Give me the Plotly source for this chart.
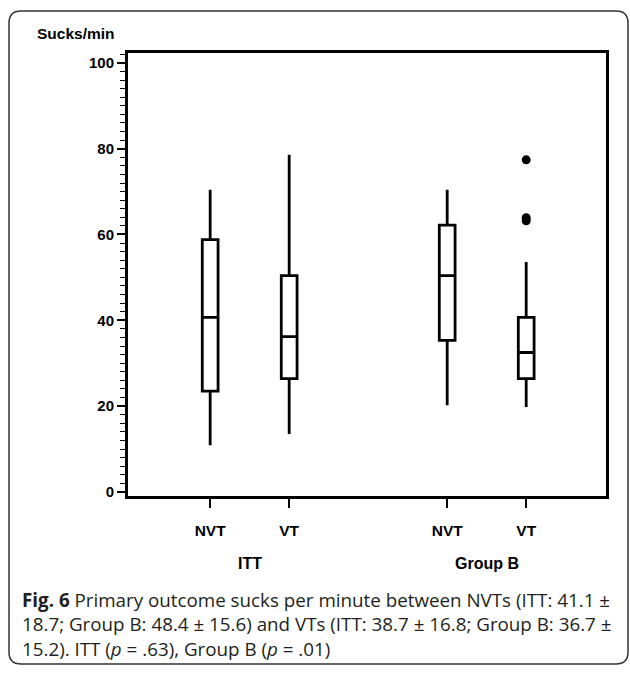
import plotly.graph_objects as go

# ---- data ----
groups = ["ITT", "ITT", "Group B", "Group B"]
categories = ["NVT", "VT", "NVT", "VT"]
x_pos = [0, 1, 3, 4]
lower_whisker = [10.9, 13.5, 20.2, 19.8]
q1_vals = [23.5, 26.4, 35.3, 26.4]
median_vals = [40.7, 36.2, 50.4, 32.5]
q3_vals = [58.8, 50.4, 62.2, 40.7]
upper_whisker = [70.4, 78.6, 70.4, 53.6]
outlier_x = [4, 4, 4]
outlier_y = [63.2, 63.9, 77.4]
group_labels = ["ITT", "Group B"]
group_centers = [0.5, 3.5]
y_ticks = [0, 20, 40, 60, 80, 100]

# ---- geometry helpers (pixel -> paper) ----
W, H = 630, 674
ML, MR, MT, MB = 128, 24, 53, 178
PW, PH = W - ML - MR, H - MT - MB


def px(xp):
    return (xp - ML) / PW


def py(yp):
    return (H - MB - yp) / PH


fig = go.Figure()

fig.add_trace(go.Box(
    x=x_pos,
    q1=q1_vals, median=median_vals, q3=q3_vals,
    lowerfence=lower_whisker, upperfence=upper_whisker,
    width=0.2, whiskerwidth=0,
    line=dict(color="black", width=2.8),
    fillcolor="white",
    boxpoints=False,
    showlegend=False,
    hoverinfo="skip",
))

fig.add_trace(go.Scatter(
    x=outlier_x, y=outlier_y, mode="markers",
    marker=dict(color="black", size=9),
    showlegend=False, hoverinfo="skip",
))

axis_font = dict(family="Liberation Sans, Arial, sans-serif", size=15, color="black")

fig.update_xaxes(
    range=[-1.04, 5.01],
    tickmode="array", tickvals=x_pos,
    ticktext=["<b>%s</b>" % c for c in categories],
    ticks="outside", ticklen=9, tickwidth=1.5, tickcolor="black",
    ticklabelstandoff=9,
    showline=True, linecolor="black", linewidth=3, mirror=True,
    showgrid=False, zeroline=False,
    tickfont=dict(family="Liberation Sans, Arial, sans-serif", size=15.5, color="black"),
)
fig.update_yaxes(
    range=[-0.95, 102.3],
    tickmode="array", tickvals=y_ticks,
    ticktext=["<b>%d</b>" % v for v in y_ticks],
    ticks="outside", ticklen=8, tickwidth=1.5, tickcolor="black",
    minor=dict(dtick=2, tick0=0, ticks="outside", ticklen=5, tickwidth=1.3, tickcolor="black"),
    showline=True, linecolor="black", linewidth=3, mirror=True,
    showgrid=False, zeroline=False,
    tickfont=axis_font,
)

annotations = []
annotations.append(dict(
    text="<b>Sucks/min</b>", xref="paper", yref="paper",
    x=px(35), y=py(33), xanchor="left", yanchor="middle",
    showarrow=False, font=dict(family="Liberation Sans, Arial, sans-serif", size=15.5, color="black"),
))
for lab, cx in zip(group_labels, group_centers):
    annotations.append(dict(
        text="<b>%s</b>" % lab, xref="x", yref="paper",
        x=cx, y=py(563), xanchor="center", yanchor="middle",
        showarrow=False, font=dict(family="Liberation Sans, Arial, sans-serif", size=16, color="black"),
    ))
caption = ("<b>Fig. 6</b> Primary outcome sucks per minute between NVTs (ITT: 41.1 ±<br>"
           "18.7; Group B: 48.4 ± 15.6) and VTs (ITT: 38.7 ± 16.8; Group B: 36.7 ±<br>"
           "15.2). ITT (<i>p</i> = .63), Group B (<i>p</i> = .01)")
annotations.append(dict(
    text=caption, xref="paper", yref="paper",
    x=px(20), y=py(624), xanchor="left", yanchor="middle",
    align="left", showarrow=False,
    font=dict(family="Open Sans, sans-serif", size=18.8, color="#231f20"),
))

# rounded border around the whole figure
x0, x1 = px(9), px(628)
y0, y1 = py(11), py(664)
rx = 12 / PW
ry = 12 / PH
path = (f"M {x0 + rx},{y0} L {x1 - rx},{y0} Q {x1},{y0} {x1},{y0 - ry} "
        f"L {x1},{y1 + ry} Q {x1},{y1} {x1 - rx},{y1} "
        f"L {x0 + rx},{y1} Q {x0},{y1} {x0},{y1 + ry} "
        f"L {x0},{y0 - ry} Q {x0},{y0} {x0 + rx},{y0} Z")

fig.update_layout(
    width=W, height=H,
    margin=dict(l=ML, r=MR, t=MT, b=MB),
    paper_bgcolor="white", plot_bgcolor="white",
    annotations=annotations,
    shapes=[dict(type="path", path=path, xref="paper", yref="paper",
                 line=dict(color="#333333", width=1.5), layer="below")],
)

fig.write_html("out.html")
